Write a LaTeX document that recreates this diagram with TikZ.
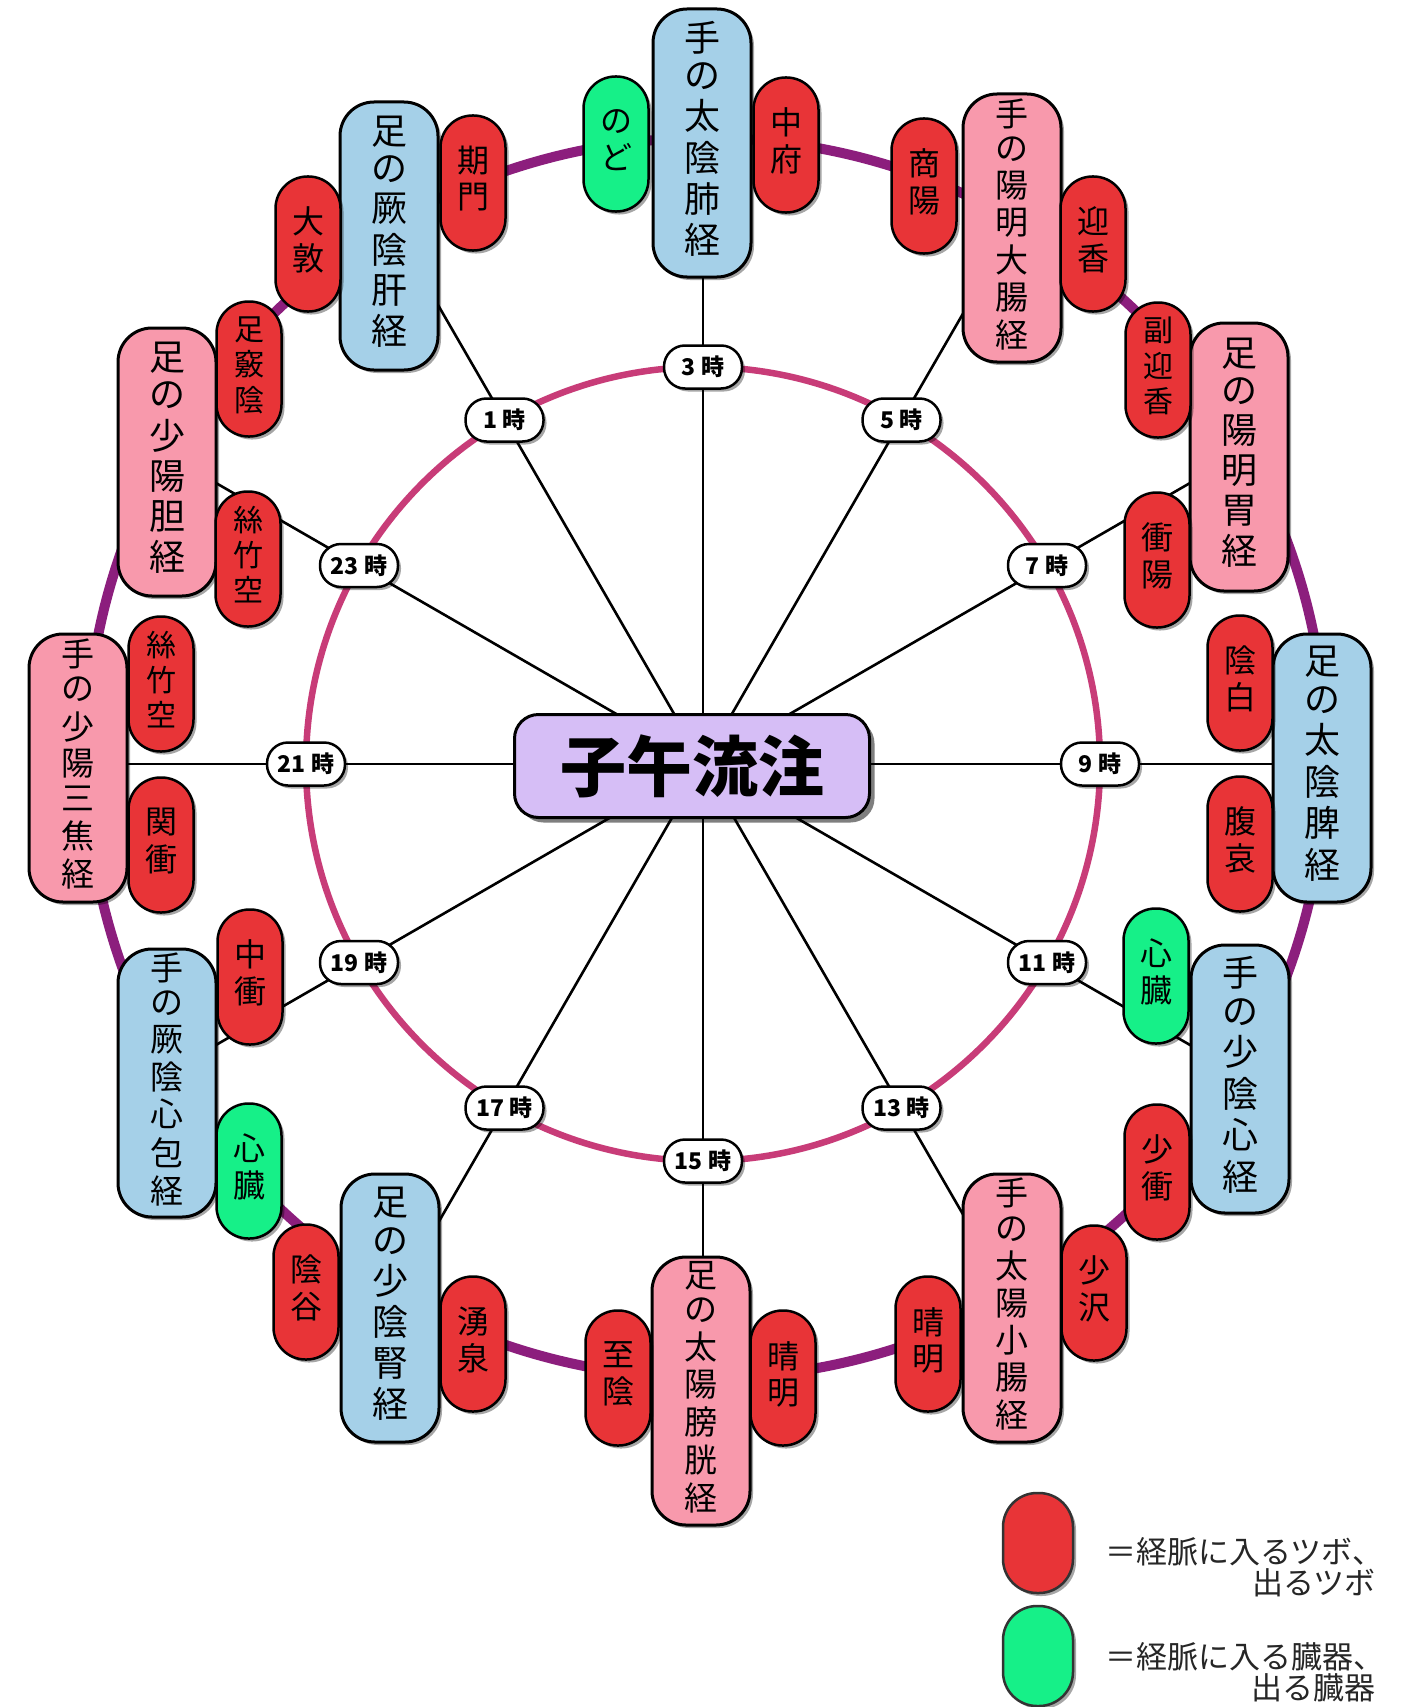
\documentclass[tikz,border=0pt]{standalone}
\usepackage{fontspec}
\newfontfamily\jp{Noto Sans CJK JP}
\usetikzlibrary{shadows,calc}
\definecolor{mblue}{HTML}{A5D0E8}
\definecolor{mpink}{HTML}{F899AC}
\definecolor{pred}{HTML}{E83437}
\definecolor{pgreen}{HTML}{16F088}
\definecolor{tpurple}{HTML}{D6BEF6}
\definecolor{ringin}{HTML}{C83C78}
\definecolor{ringout}{HTML}{8C1E7D}
\pgfdeclarelayer{bg}
\pgfsetlayers{bg,main}
\newcommand\vlab[1]{\begin{tabular}{@{}c@{}}#1\end{tabular}}
\tikzset{
  shd/.style={drop shadow={shadow xshift=3pt,shadow yshift=-3pt,opacity=0.35,fill=black}},
  mer/.style={draw=black, line width=3pt, rounded corners=34pt, minimum width=98pt,
    minimum height=268pt, inner sep=0pt, shd, font=\jp\fontsize{36}{37.5}\selectfont},
  mer7/.style={font=\jp\fontsize{33}{34.5}\selectfont},
  mb/.style={mer, fill=mblue},
  mp/.style={mer, fill=mpink},
  pill/.style={draw=black, line width=2.5pt, rounded corners=32pt, minimum width=65pt,
    minimum height=135pt, inner sep=0pt, shd, font=\jp\fontsize{32}{35.5}\selectfont},
  pr/.style={pill, fill=pred},
  pg/.style={pill, fill=pgreen},
  pill3/.style={font=\jp\fontsize{30}{34}\selectfont},
  hour/.style={draw=black, line width=2.5pt, fill=white, rounded corners=21pt,
    minimum width=78pt, minimum height=43pt, inner sep=0pt, shd,
    font=\jp\bfseries\fontsize{23}{24}\selectfont},
  titlebox/.style={draw=black, line width=3pt, fill=tpurple, rounded corners=24pt,
    minimum width=355pt, minimum height=103pt, inner sep=0pt,
    drop shadow={shadow xshift=5pt,shadow yshift=-5pt,opacity=0.5,fill=black},
    font=\jp\bfseries\fontsize{66}{70}\selectfont},
  spoke/.style={draw=black, line width=2.6pt},
  ring1/.style={draw=ringin, line width=6.5pt},
  ring2/.style={draw=ringout, line width=10pt},
  legpill/.style={draw=black!80, line width=2.5pt, rounded corners=34pt, minimum width=70pt,
    minimum height=100pt, inner sep=0pt, shd},
  legtext/.style={inner sep=0pt, text=black!85, font=\jp\fontsize{31}{33}\selectfont}
}
\begin{document}
\begin{tikzpicture}[x=1pt,y=-1pt]
\begin{pgfonlayer}{bg}
\fill[white] (0,0) rectangle (1403,1707);
\end{pgfonlayer}
\useasboundingbox (0,0) rectangle (1403,1707);

% centres and spoke ends
\coordinate (ctr) at (703,764);
\coordinate (ctrO) at (706,758);
\coordinate (e3) at (703,250);
\coordinate (e5) at (983,279);
\coordinate (e7) at (1223,464);
\coordinate (e9) at (1300,764);
\coordinate (e11) at (1223,1064);
\coordinate (e13) at (983,1249);
\coordinate (e15) at (703,1290);
\coordinate (e17) at (423,1249);
\coordinate (e19) at (183,1064);
\coordinate (e21) at (100,764);
\coordinate (e23) at (183,464);
\coordinate (e1) at (423,279);

% title
\node[titlebox] (title) at (692,766) {子午流注};

% meridians
\node[mb] (mLu) at (702,143) {\vlab{手\\の\\太\\陰\\肺\\経}};
\node[mp,mer7] (mLI) at (1012,228) {\vlab{手\\の\\陽\\明\\大\\腸\\経}};
\node[mp] (mSt) at (1239,457) {\vlab{足\\の\\陽\\明\\胃\\経}};
\node[mb] (mSp) at (1322,768) {\vlab{足\\の\\太\\陰\\脾\\経}};
\node[mb] (mHt) at (1240,1079) {\vlab{手\\の\\少\\陰\\心\\経}};
\node[mp,mer7] (mSI) at (1012,1308) {\vlab{手\\の\\太\\陽\\小\\腸\\経}};
\node[mp,mer7] (mBL) at (701,1391) {\vlab{足\\の\\太\\陽\\膀\\胱\\経}};
\node[mb] (mKi) at (390,1308) {\vlab{足\\の\\少\\陰\\腎\\経}};
\node[mb,mer7] (mPC) at (167,1083) {\vlab{手\\の\\厥\\陰\\心\\包\\経}};
\node[mp,mer7] (mTE) at (78,768) {\vlab{手\\の\\少\\陽\\三\\焦\\経}};
\node[mp] (mGB) at (167,462) {\vlab{足\\の\\少\\陽\\胆\\経}};
\node[mb] (mLR) at (389,236) {\vlab{足\\の\\厥\\陰\\肝\\経}};

% points
\node[pg] (pNodo) at (616,144) {\vlab{の\\ど}};
\node[pr] (pChufu) at (786,145) {\vlab{中\\府}};
\node[pr] (pShoyo) at (924,186) {\vlab{商\\陽}};
\node[pr] (pGeiko) at (1093,244) {\vlab{迎\\香}};
\node[pr,pill3] (pFuku) at (1158,370) {\vlab{副\\迎\\香}};
\node[pr] (pShoyoF) at (1157,560) {\vlab{衝\\陽}};
\node[pr] (pInpaku) at (1240,683) {\vlab{陰\\白}};
\node[pr] (pFukuai) at (1240,844) {\vlab{腹\\哀}};
\node[pg] (pHeartR) at (1156,976) {\vlab{心\\臓}};
\node[pr] (pShosho) at (1157,1172) {\vlab{少\\衝}};
\node[pr] (pShotaku) at (1094,1293) {\vlab{少\\沢}};
\node[pr] (pSeiR) at (928,1344) {\vlab{晴\\明}};
\node[pr] (pSeiL) at (783,1378) {\vlab{晴\\明}};
\node[pr] (pShiin) at (618,1378) {\vlab{至\\陰}};
\node[pr] (pYusen) at (473,1344) {\vlab{湧\\泉}};
\node[pr] (pInkoku) at (306,1292) {\vlab{陰\\谷}};
\node[pg] (pHeartL) at (249,1171) {\vlab{心\\臓}};
\node[pr] (pChusho) at (250,977) {\vlab{中\\衝}};
\node[pr] (pKansho) at (161,845) {\vlab{関\\衝}};
\node[pr,pill3] (pShiA) at (161,684) {\vlab{絲\\竹\\空}};
\node[pr,pill3] (pShiB) at (248,559) {\vlab{絲\\竹\\空}};
\node[pr,pill3] (pAshi) at (249,369) {\vlab{足\\竅\\陰}};
\node[pr] (pDaiton) at (308,244) {\vlab{大\\敦}};
\node[pr] (pKimon) at (473,183) {\vlab{期\\門}};

% hours
\node[hour] (h3) at (703,367) {3 時};
\node[hour] (h5) at (901.5,420) {5 時};
\node[hour] (h7) at (1047,565.5) {7 時};
\node[hour] (h9) at (1100,764) {9 時};
\node[hour] (h11) at (1047,962.5) {11 時};
\node[hour] (h13) at (901.5,1108) {13 時};
\node[hour] (h15) at (703,1161) {15 時};
\node[hour] (h17) at (504.5,1108) {17 時};
\node[hour] (h19) at (359,962.5) {19 時};
\node[hour] (h21) at (306,764) {21 時};
\node[hour] (h23) at (359,565.5) {23 時};
\node[hour] (h1) at (504.5,420) {1 時};

% rings and spokes (behind)
\begin{pgfonlayer}{bg}
\draw[ring2] (ctrO) circle[radius=620];
\draw[ring1] (ctr) circle[radius=397];
\foreach \h in {1,3,5,7,9,11,13,15,17,19,21,23}{
  \draw[spoke] (ctr) -- (h\h.center) -- (e\h);
}
\end{pgfonlayer}

% legend
\node[legpill, fill=pred] (lgR) at (1038,1543) {};
\node[legpill, fill=pgreen] (lgG) at (1038,1656) {};
\node[legtext, anchor=west] (lt1a) at (1105,1552) {＝経脈に入るツボ、};
\node[legtext, anchor=east] (lt1b) at (1376,1583) {出るツボ};
\node[legtext, anchor=west] (lt2a) at (1105,1657) {＝経脈に入る臓器、};
\node[legtext, anchor=east] (lt2b) at (1376,1688) {出る臓器};
\end{tikzpicture}
\end{document}
